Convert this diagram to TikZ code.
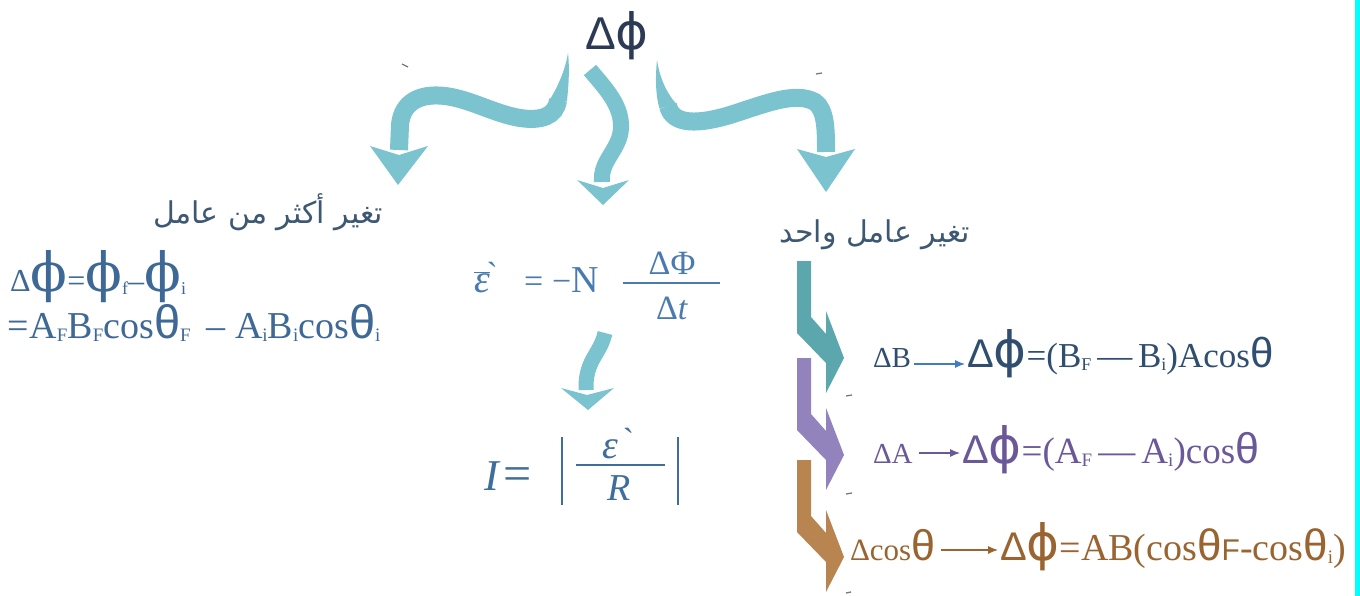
\documentclass[tikz,border=0pt]{standalone}
\usepackage{fix-cm}
\usepackage{fontspec}
\setmainfont{Liberation Serif}
\newfontfamily\sansf{Liberation Sans}
\newfontfamily\dvs{DejaVu Sans}
\newfontfamily\dvser{DejaVu Serif}
\newfontfamily\arabicfont[Script=Arabic]{DejaVu Sans}
\usetikzlibrary{arrows.meta,calc}
\TeXXeTstate=1
\newcommand\fs[1]{\fontsize{#1}{#1}\selectfont}
\newcommand\lo[2]{\raisebox{-3pt}{\fs{#1}#2}}
\newcommand\bphi[1]{{\dvs\fs{#1}ϕ}}
\newcommand\sphi[1]{{\dvser\fs{#1}ϕ}}
\newcommand\sth[1]{{\sansf\fs{#1}θ}}
\definecolor{arrowc}{HTML}{7AC3CF}
\definecolor{tealc}{HTML}{5BA7AD}
\definecolor{purpc}{HTML}{9283BD}
\definecolor{brownc}{HTML}{B8844F}
\definecolor{topc}{HTML}{2C3A55}
\definecolor{arabc}{HTML}{3D5873}
\definecolor{leftc}{HTML}{3E6896}
\definecolor{midc}{HTML}{4A7BB0}
\definecolor{midd}{HTML}{3F6E9C}
\definecolor{rowa}{HTML}{2F4E70}
\definecolor{rowaarr}{HTML}{3F7DC0}
\definecolor{rowb}{HTML}{6A5898}
\definecolor{rowc}{HTML}{9A6431}
\definecolor{strayc}{HTML}{777777}
\definecolor{edgec}{HTML}{00FFFF}
\tikzset{
  flow/.style={draw=arrowc, line width=18pt},
  txt/.style={inner sep=0pt, outer sep=0pt},
  rowarrow/.style={line width=1.1pt, -{Latex[length=10pt,width=8pt]}},
  stray/.style={draw=strayc, line width=1.3pt}
}
\begin{document}
\begin{tikzpicture}[x=1pt,y=-1pt]
\useasboundingbox (0,0) rectangle (1360,596);
\fill[white] (0,0) rectangle (1360,596);
\fill[edgec] (1355,0) rectangle (1360,596);

% top node
\node[txt, text=topc, anchor=base, font=\fs{46}] (top) at (617,50) {{\sansf Δ}\bphi{50}};

% left curved arrow
\fill[arrowc] (568,53) .. controls (570,72) and (568,90) .. (567,101) -- (549,101) .. controls (556,90) and (565,72) .. (568,53);
\draw[flow] (558,100) .. controls (556,117) and (540,121) .. (520,118) .. controls (495,114) and (470,99) .. (445,96) .. controls (420,93) and (402,102) .. (400,125) -- (399,150);
\fill[arrowc] (370,146) -- (399,155) -- (428,146) -- (398,185) -- cycle;

% middle curved arrow
\draw[flow, line width=16pt] (590,70) .. controls (605,88) and (622,105) .. (621,128) .. controls (620,150) and (600,160) .. (602,182);
\fill[arrowc] (577,180) -- (603,188) -- (629,180) -- (603,205) -- cycle;

% right curved arrow
\fill[arrowc] (657,60) .. controls (655,80) and (656,97) .. (659.5,108.5) -- (676.5,104) .. controls (668,95) and (660,80) .. (657,60);
\draw[flow] (668,106) .. controls (673,126) and (700,124) .. (730,115) .. controls (765,104) and (795,91) .. (815,102) .. controls (826,110) and (826,130) .. (826,152);
\fill[arrowc] (797,149) -- (826,157) -- (855,149) -- (826,192) -- cycle;

% stray marks
\draw[stray] (402,64) -- (408,67);
\draw[stray] (816,74) -- (822,73);
\draw[stray] (846,396) -- (852,395);
\draw[stray] (846,494) -- (852,493);
\draw[stray] (846,593) -- (851,592);

% left texts
\node[txt, text=arabc, anchor=base east, font=\arabicfont\fs{30}] (a1) at (383,224) {\beginR تغير أكثر من عامل\endR};
\node[txt, text=leftc, anchor=base west] (l1) at (10,291) {\fs{32}Δ\sphi{54}\fs{32}=\sphi{54}\lo{18}{f}\fs{32}–\sphi{54}\lo{18}{i}};
\node[txt, text=leftc, anchor=base west] (l2) at (8,338) {\fs{38}=A\lo{19}{F}B\lo{19}{F}cos\sth{47}\lo{19}{F}\, – A\lo{19}{i}B\lo{19}{i}cos\sth{47}\lo{19}{i}};

% middle equation 1
\node[txt, text=midc, anchor=base west, font=\fs{40}] (f1) at (474,292) {$\overline{\mbox{\itshape ε}}$\kern-1pt\fs{34}\`{}};
\node[txt, text=midc, anchor=base west, font=\fs{34}] (f2) at (524,292) {=};
\node[txt, text=midc, anchor=base west, font=\fs{34}] (f5) at (552,292) {−\fs{38}N};
\node[txt, text=midc, anchor=base, font=\fs{34}] (f3) at (672,274) {ΔΦ};
\node[txt, text=midc, anchor=base, font=\fs{34}] (f4) at (672,319) {Δ\textit{t}};
\coordinate (fb1) at (623,283);
\coordinate (fb2) at (720,283);
\draw[midc, line width=1.6pt] (fb1) -- (fb2);

% small middle arrow
\draw[flow, line width=15pt] (605,333) .. controls (600,355) and (585,360) .. (586,390);
\fill[arrowc] (561,388) -- (587,395) -- (614,388) -- (588,410) -- cycle;

% middle equation 2
\node[txt, text=midd, anchor=base west, font=\fs{44}] (i1) at (484,490) {\textit{I}\kern3pt\fs{50}=};
\node[txt, text=midd, anchor=base, font=\fs{40}] (i2) at (618,458) {{\itshape ε}\kern7pt\fs{34}\`{}};
\node[txt, text=midd, anchor=base, font=\fs{38}] (i3) at (619,500) {\textit{R}};
\coordinate (lb1) at (562,437); \coordinate (lb2) at (562,505);
\coordinate (rb1) at (678,437); \coordinate (rb2) at (678,505);
\coordinate (ib1) at (576,465); \coordinate (ib2) at (665,465);
\draw[midd, line width=2.6pt] (lb1) -- (lb2);
\draw[midd, line width=2.6pt] (rb1) -- (rb2);
\draw[midd, line width=1.6pt] (ib1) -- (ib2);

% right texts
\node[txt, text=arabc, anchor=base east, font=\arabicfont\fs{30}] (a2) at (970,243) {\beginR تغير عامل واحد\endR};

% chevrons
\foreach \d/\c in {0/tealc,97/purpc,199/brownc}{
  \fill[\c] (797,{261+\d}) -- (811,{261+\d}) -- (811,{317+\d}) -- (826,{334+\d}) -- (826,{311+\d}) -- (844,{358+\d}) -- (826,{393+\d}) -- (826,{363+\d}) -- (797,{333+\d}) -- cycle;
}

% row 1
\node[txt, text=rowa, anchor=base west] (b1) at (873,367) {\fs{29}ΔB};
\node[txt, text=rowa, anchor=base west] (b2) at (967,367) {{\sansf\fs{40}Δ}\bphi{50}\fs{35}=(B\lo{18}{F}\,—\,B\lo{18}{i})Acos\sth{42}};
\draw[rowarrow, draw=rowaarr] ([xshift=3pt,yshift=3pt]b1.base east) -- ([xshift=-2pt,yshift=3pt]b1.base east -| b2.west);

% row 2
\node[txt, text=rowb, anchor=base west] (r1) at (873,463) {\fs{29}ΔA};
\node[txt, text=rowb, anchor=base west] (r2) at (962,463) {{\sansf\fs{40}Δ}\bphi{50}\fs{37}=(A\lo{19}{F}\,—\,A\lo{19}{i})cos\sth{43}};
\draw[rowarrow, draw=rowb] ([xshift=6pt,yshift=10pt]r1.base east) -- ([xshift=-2pt,yshift=10pt]r1.base east -| r2.west);

% row 3
\node[txt, text=rowc, anchor=base west] (c1) at (850,560) {\fs{31}Δcos\sth{43}};
\node[txt, text=rowc, anchor=base west] (c2) at (1000,560) {{\sansf\fs{40}Δ}\bphi{50}\fs{38}=AB(cos\sth{44}{\sansf\fs{30}F}-cos\sth{44}\lo{19}{i})};
\draw[rowarrow, draw=rowc] ([xshift=6pt,yshift=10pt]c1.base east) -- ([xshift=-2pt,yshift=10pt]c1.base east -| c2.west);
\end{tikzpicture}
\end{document}
